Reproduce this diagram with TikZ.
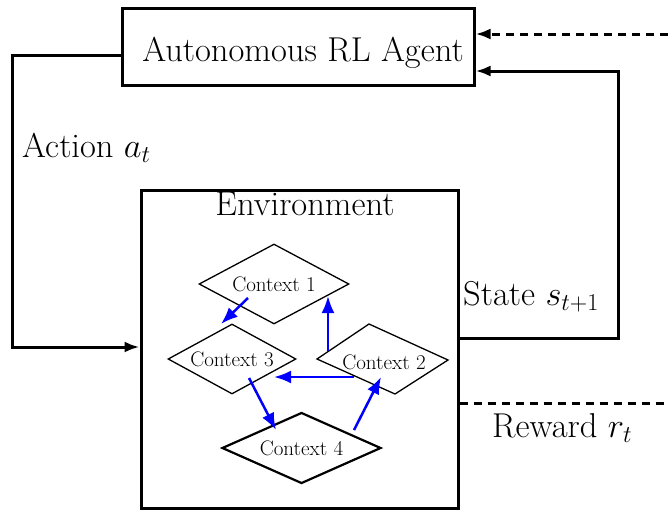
\RequirePackage{fix-cm}
\documentclass[tikz,border=0pt]{standalone}
\usepackage{fontspec}
\usetikzlibrary{arrows.meta,shapes.geometric,calc}
\tikzset{
  big/.style={font=\fontsize{34.5}{40}\selectfont, inner sep=0pt},
  small/.style={font=\fontsize{21}{25}\selectfont, inner sep=0pt},
  thickbox/.style={draw, line width=3pt, rectangle, inner sep=0pt},
  conn/.style={line width=3pt},
  tip/.style={-{Latex[length=15pt,width=11pt]}},
  dashline/.style={line width=3pt, dash pattern=on 8pt off 6pt},
  ctx/.style={draw, diamond, aspect=2, line width=1.3pt, inner sep=0pt, small},
  bluearrow/.style={draw=blue, line width=2.5pt, -{Latex[length=17pt,width=13pt]}}
}
\begin{document}
\begin{tikzpicture}[x=1pt,y=-1pt]
\useasboundingbox (0,0) rectangle (668,512);
% boxes
\node[thickbox, minimum width=352pt, minimum height=77pt] (agent) at (298,46.5) {};
\node[big, anchor=base] (agenttext) at (303,61) {Autonomous RL Agent};
\node[thickbox, minimum width=317pt, minimum height=318pt] (env) at (299.5,349) {};
\node[big, anchor=base] (envtext) at (305,215) {Environment};
% contexts
\node[ctx, minimum width=150pt, minimum height=80pt] (ctx1) at (274,284) {Context 1};
\node[ctx, minimum width=128pt, minimum height=70pt] (ctx3) at (232,359) {Context 3};
\node[ctx, line width=2.2pt, minimum width=159pt, minimum height=71pt] (ctx4) at (301.5,448) {Context 4};
\coordinate (c2t) at (369,324);
\coordinate (c2r) at (448,360);
\coordinate (c2b) at (395,394);
\coordinate (c2l) at (317,359);
\draw[line width=1.3pt, line join=miter] (c2t) -- (c2r) -- (c2b) -- (c2l) -- cycle;
\node[small] (ctx2) at (384,362) {Context 2};
% labels
\node[big, anchor=base west] (action) at (22,157) {Action $a_t$};
\node[big, anchor=base west] (state) at (463,305) {State $s_{t+1}$};
\node[big, anchor=base west] (reward) at (492,437) {Reward $r_t$};
% connectors
\coordinate (a1) at (12,55);
\coordinate (a2) at (12,347);
\draw[conn, tip] (agent.west |- a1) -- (a1) -- (a2) -- (env.west |- a2);
\coordinate (s1) at (618,338);
\coordinate (s2) at (618,71);
\draw[conn, tip] (env.east |- s1) -- (s1) -- (s2) -- (agent.east |- s2);
\coordinate (r1) at (668,34);
\draw[dashline, tip] (r1) -- (agent.east |- r1);
\coordinate (r2) at (668,403);
\draw[dashline] (env.east |- r2) -- (r2);
% blue arrows
\draw[bluearrow] ($(ctx1)+(-26,14)$) -- ($(ctx3)+(-11,-35)$);
\draw[bluearrow] ($(ctx2)+(-56,-11)$) -- ($(ctx1)+(54,12)$);
\draw[bluearrow] ($(ctx2)+(-30,15)$) -- ($(ctx3)+(42,18)$);
\draw[bluearrow] ($(ctx3)+(17,19)$) -- ($(ctx4)+(-25.5,-18)$);
\draw[bluearrow] ($(ctx4)+(52.5,-18)$) -- ($(ctx2)+(-3,15)$);
\end{tikzpicture}
\end{document}
